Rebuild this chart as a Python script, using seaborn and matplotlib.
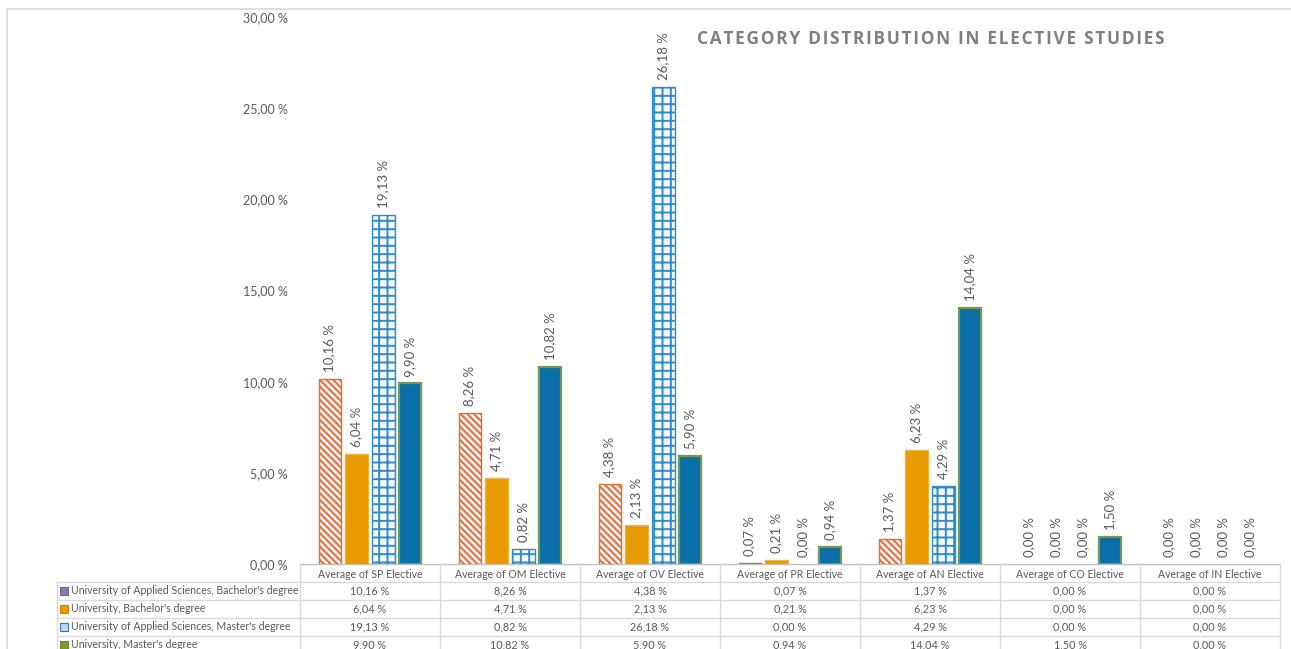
import matplotlib
matplotlib.use("Agg")
import matplotlib.pyplot as plt
import matplotlib.patches as mpatches
import seaborn as sns
import pandas as pd

categories = ["Average of SP Elective", "Average of OM Elective", "Average of OV Elective",
              "Average of PR Elective", "Average of AN Elective", "Average of CO Elective",
              "Average of IN Elective"]
series_names = ["University of Applied Sciences, Bachelor's degree",
                "University, Bachelor's degree",
                "University of Applied Sciences, Master's degree",
                "University, Master's degree"]
uas_bachelor = [10.16, 8.26, 4.38, 0.07, 1.37, 0.00, 0.00]
uni_bachelor = [6.04, 4.71, 2.13, 0.21, 6.23, 0.00, 0.00]
uas_master = [19.13, 0.82, 26.18, 0.00, 4.29, 0.00, 0.00]
uni_master = [9.90, 10.82, 5.90, 0.94, 14.04, 1.50, 0.00]
y_ticks = [0, 5, 10, 15, 20, 25, 30]
title = "CATEGORY DISTRIBUTION IN ELECTIVE STUDIES"

series_values = [uas_bachelor, uni_bachelor, uas_master, uni_master]
rows = []
for name, vals in zip(series_names, series_values):
    for cat, v in zip(categories, vals):
        rows.append({"category": cat, "series": name, "value": v})
df = pd.DataFrame(rows)

sns.set_theme(style="white")
plt.rcParams["font.family"] = ["Lato", "DejaVu Sans"]
plt.rcParams["hatch.linewidth"] = 1.4

TXT = "#595959"
W, H = 1291, 649
fig = plt.figure(figsize=(W / 100, H / 100), dpi=100)

def fx(px):
    return px / W

def fy(py):
    return 1 - py / H

def pct(v):
    return f"{v:.2f} %".replace(".", ",")

# bar styles per series: face, edge, hatch, linewidth
styles = [
    dict(facecolor="#F1F0FA", edgecolor="#E0702A", hatch="\\\\\\\\\\", linewidth=1.0),
    dict(facecolor="#E89B00", edgecolor="#F2B53A", hatch=None, linewidth=1.0),
    dict(facecolor="#F7F9FC", edgecolor="#2F8BC9", hatch="++", linewidth=1.0),
    dict(facecolor="#0B6EA9", edgecolor="#6E9A56", hatch=None, linewidth=1.6),
]

ax = fig.add_axes([fx(300), fy(564), fx(980), 547 / H])
sns.barplot(data=df, x="category", y="value", hue="series", order=categories,
            hue_order=series_names, width=0.77, gap=0.18, legend=False, ax=ax,
            err_kws={"linewidth": 0})

for cont, st in zip(ax.containers, styles):
    for bar, v in zip(cont, cont.datavalues):
        bar.set_facecolor(st["facecolor"])
        bar.set_edgecolor(st["edgecolor"])
        bar.set_linewidth(st["linewidth"] if v > 0 else 0)
        if st["hatch"]:
            bar.set_hatch(st["hatch"])
    labels = [pct(v) for v in cont.datavalues]
    ax.bar_label(cont, labels=labels, rotation=90, padding=5, fontsize=9.5, color=TXT)

ax.set_xlim(-0.5, len(categories) - 0.5)
ax.set_ylim(0, 30)
ax.set_yticks(y_ticks)
ax.set_yticklabels([pct(t) for t in y_ticks])
ax.tick_params(axis="y", length=0, pad=9, labelsize=9, labelcolor=TXT)
ax.set_xticks([])
ax.set_xlabel("")
ax.set_ylabel("")
for s in ["top", "right", "left", "bottom"]:
    ax.spines[s].set_visible(False)
ax.patch.set_alpha(0)

# data table under the plot, drawn in pixel coordinates
tax = fig.add_axes([0, 0, 1, 1], zorder=-1)
tax.set_xlim(0, W)
tax.set_ylim(H, 0)
tax.axis("off")

LINE = "#D9D9D9"
# chart frame
tax.plot([7, W], [9, 9], color=LINE, lw=1.2)
tax.plot([7, 7], [9, H], color=LINE, lw=1.2)

col_edges = [300 + 140 * i for i in range(len(categories) + 1)]
row_lines = [564, 582, 600, 618, 636]
tax.plot([300, 1280], [564, 564], color="#BFBFBF", lw=1.0)
for y in row_lines[1:]:
    tax.plot([57, 1280], [y, y], color=LINE, lw=1.0)
for x in col_edges:
    tax.plot([x, x], [564, H], color=LINE, lw=1.0)
tax.plot([57, 57], [582, H], color=LINE, lw=1.0)

for i, cat in enumerate(categories):
    tax.text(370 + 140 * i, 574, cat, ha="center", va="center", fontsize=7.6, color=TXT)

row_centers = [591, 609, 627, 645]
square_colors = [("#8E7FA8", "#6F5F90"), ("#E89B00", "#E07A10"),
                 ("#BFD7EC", "#3A79B5"), ("#7E9A2E", "#6B8526")]
for r, (name, vals) in enumerate(zip(series_names, series_values)):
    yc = row_centers[r]
    fc, ec = square_colors[r]
    tax.add_patch(mpatches.Rectangle((60, yc - 4), 8, 8, facecolor=fc, edgecolor=ec, lw=0.8))
    tax.text(71, yc, name, ha="left", va="center", fontsize=7.6, color=TXT)
    for i, v in enumerate(vals):
        tax.text(370 + 140 * i, yc, pct(v), ha="center", va="center", fontsize=7.8, color=TXT)

# letter-spaced title (hair spaces between characters)
spaced_title = "\u200a".join(title)
fig.text(fx(931), fy(39), spaced_title, ha="center", va="center", fontsize=12.4,
         fontweight="bold", color="#7F7F7F", family=["Open Sans", "DejaVu Sans"])

fig.savefig("out.png", dpi=100)
